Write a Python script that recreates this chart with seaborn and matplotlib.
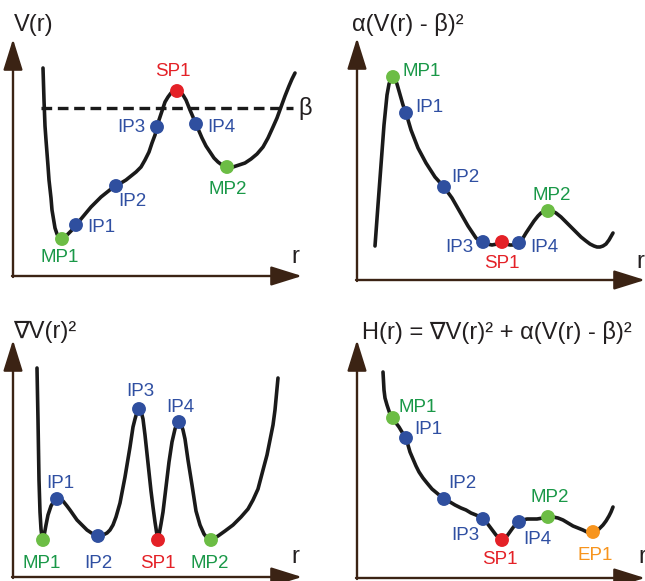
import matplotlib
matplotlib.use('Agg')
import matplotlib.pyplot as plt
import seaborn as sns
import pandas as pd

# ---- panel 1: V(r) ----
v_r = [30, 31, 32, 33, 35, 36, 38, 39, 41, 42, 44, 45, 47, 49, 52, 55, 59, 63, 68, 73, 78, 83, 88, 93, 98,
       103, 113, 123, 128, 132, 136, 139, 142, 144, 146, 148, 150, 152, 155, 158, 161, 164, 167, 170, 173,
       177, 180, 183, 186, 189, 193, 197, 201, 205, 209, 214, 220, 226, 232, 238, 244, 250, 255, 260, 264,
       268, 272, 276, 279, 282]
v_val = [208, 176, 150, 136, 110, 96, 78, 66, 54, 48, 42, 40, 38, 37, 39, 42, 46, 51, 57, 63, 69, 74, 79, 83, 87,
         90, 96, 104, 109, 116, 124, 133, 141, 149, 156, 162, 168, 174, 179, 183, 185, 185, 184, 181, 176,
         166, 159, 152, 145, 138, 130, 124, 118, 114, 111, 109, 109, 111, 113, 117, 122, 129, 138, 149, 158,
         169, 180, 190, 197, 203]
v_pts = ['MP1', 'IP1', 'IP2', 'IP3', 'SP1', 'IP4', 'MP2']
v_pts_r = [49, 63, 103, 144, 164, 183, 214]
v_pts_val = [37, 51, 90, 149, 185, 152, 109]
beta = 168
beta_from, beta_to = 28, 280

# ---- panel 2: alpha (V(r) - beta)^2 ----
a_r = [18, 21, 24, 27, 30, 32, 34, 36, 38, 40, 42, 44, 46, 49, 54, 61, 69, 78, 87, 95, 103, 111, 119,
       123, 126, 130, 135, 140, 145, 149, 153, 158, 162, 166, 169, 173, 177, 181, 184, 188, 191, 195, 199,
       204, 209, 214, 219, 224, 229, 233, 237, 240, 243, 246, 249, 252, 256]
a_val = [34, 75, 115, 155, 185, 196, 201, 203, 201, 196, 189, 182, 175, 167, 150, 132, 117, 103, 93, 82, 68, 54, 42,
         39, 38, 36, 35, 36, 38, 36, 35, 35, 37, 42, 47, 53, 59, 64, 67, 69, 69, 69, 67,
         63, 58, 53, 48, 43, 39, 36, 34, 33, 33, 34, 36, 40, 47]
a_pts = ['MP1', 'IP1', 'IP2', 'IP3', 'SP1', 'IP4', 'MP2']
a_pts_r = [36, 49, 87, 126, 145, 162, 191]
a_pts_val = [203, 167, 93, 38, 38, 37, 69]

# ---- panel 3: grad V(r)^2 ----
g_r = [24, 25, 26, 27, 28, 29, 30, 31, 33, 35, 38, 41, 44, 47, 50, 54, 57, 64, 74, 80, 85, 90, 94, 97,
       100, 103, 107, 112, 117, 120, 122, 124, 126, 128, 130, 132, 135, 138, 140, 142, 144, 145,
       146, 148, 150, 153, 156, 159, 162, 164, 166, 168, 170, 172, 175, 179, 183, 187, 191, 195, 198,
       205, 212, 220, 228, 235, 240, 245, 250, 254, 257, 260, 262, 265]
g_val = [209, 157, 97, 65, 48, 40, 37, 41, 52, 62, 71, 76, 78, 78, 76, 71, 67, 57, 47, 43, 41, 42, 44, 47,
         52, 60, 74, 100, 130, 150, 158, 165, 168, 166, 158, 142, 114, 86, 70, 55, 42, 37,
         42, 53, 65, 90, 115, 135, 148, 153, 155, 153, 147, 138, 117, 92, 66, 52, 43, 38, 37,
         41, 46, 52, 60, 68, 77, 88, 107, 122, 137, 152, 167, 199]
g_pts = ['MP1', 'IP1', 'IP2', 'IP3', 'SP1', 'IP4', 'MP2']
g_pts_r = [30, 44, 85, 126, 145, 166, 198]
g_pts_val = [37, 78, 41, 168, 37, 155, 37]

# ---- panel 4: H(r) ----
h_r = [26, 27, 28, 30, 33, 36, 39, 42, 45, 49, 51, 53, 56, 59, 62, 66, 70, 75, 81, 87, 93, 98, 104, 109,
       114, 119, 123, 126, 130, 133, 136, 139, 142, 145, 148, 150, 155, 158, 162, 166, 170, 175, 180, 186,
       191, 196, 201, 206, 211, 216, 221, 226, 230, 233, 236, 240, 243, 246, 249, 252, 254, 256]
h_val = [206, 188, 180, 173, 164, 160, 155, 151, 146, 140, 133, 126, 119, 112, 106, 100, 95, 89, 84, 79, 76, 73, 70, 68,
         65, 63, 61, 59, 55, 51, 47, 43, 40, 38, 40, 42, 49, 53, 56, 58, 59, 59, 59, 60,
         61, 61, 60, 58, 55, 52, 50, 48, 46, 45, 46, 47, 50, 53, 57, 62, 66, 71]
h_pts = ['MP1', 'IP1', 'IP2', 'IP3', 'SP1', 'IP4', 'MP2', 'EP1']
h_pts_r = [36, 49, 87, 126, 145, 162, 191, 236]
h_pts_val = [160, 140, 79, 59, 38, 56, 61, 46]

dot_colors = {'MP': '#6cbd45', 'IP': '#2f4f9f', 'SP': '#e42127', 'EP': '#f7941d'}
text_colors = {'MP': '#1a9848', 'IP': '#2f4fa2', 'SP': '#e42127', 'EP': '#f7941d'}
axis_color = '#3b2314'

sns.set_theme(style='white')
plt.rcParams['font.family'] = ['Liberation Sans', 'DejaVu Sans']

W, H = 645, 581
fig = plt.figure(figsize=(W / 100, H / 100), dpi=100)

# panel box in pixels (x0, y0, w, h), axis origin in pixels, arrow lengths, title
panels = [
    dict(box=(0, 0, 322, 290), origin=(13, 276), ytip=237, xtip=289,
         title='V(r)', title_pos=(1, 251),
         r=v_r, v=v_val, names=v_pts, pr=v_pts_r, pv=v_pts_val,
         labels=[(47, 19, 'center'), (74, 48, 'left'), (119, 74, 'center'), (132, 148, 'right'),
                 (160, 204, 'center'), (194, 148, 'left'), (215, 86, 'center')],
         rlabel=(282, 19)),
    dict(box=(322, 0, 323, 290), origin=(357, 280), ytip=242, xtip=288,
         title='α(V(r) - β)²', title_pos=(-5, 255),
         r=a_r, v=a_val, names=a_pts, pr=a_pts_r, pv=a_pts_val,
         labels=[(46, 208, 'left'), (58, 172, 'left'), (94, 103, 'left'), (116, 32, 'right'),
                 (145, 17, 'center'), (173, 32, 'left'), (195, 85, 'center')],
         rlabel=(283, 18)),
    dict(box=(0, 290, 322, 291), origin=(13, 577), ytip=237, xtip=289,
         title='∇V(r)²', title_pos=(0, 245),
         r=g_r, v=g_val, names=g_pts, pr=g_pts_r, pv=g_pts_val,
         labels=[(29, 14, 'center'), (47, 94, 'center'), (85, 14, 'center'), (127, 185, 'center'),
                 (145, 14, 'center'), (167, 170, 'center'), (197, 14, 'center')],
         rlabel=(282, 20)),
    dict(box=(322, 290, 323, 291), origin=(357, 578), ytip=238, xtip=288,
         title='H(r) = ∇V(r)² + α(V(r) - β)²', title_pos=(5, 246),
         r=h_r, v=h_val, names=h_pts, pr=h_pts_r, pv=h_pts_val,
         labels=[(61, 171, 'center'), (71, 148, 'center'), (105, 95, 'center'), (108, 42, 'center'),
                 (143, 18, 'center'), (180, 39, 'center'), (193, 80, 'center'), (238, 23, 'center')],
         rlabel=(285, 21)),
]

for i, p in enumerate(panels):
    x0, y0, w, h = p['box']
    ox, oy = p['origin']
    ax = fig.add_axes([x0 / W, 1 - (y0 + h) / H, w / W, h / H])
    ax.set_xlim(x0 - ox, x0 + w - ox)
    ax.set_ylim(oy - (y0 + h), oy - y0)
    ax.axis('off')

    # axes with arrow heads
    arrow = dict(arrowstyle='-|>,head_length=1.6,head_width=0.5', color=axis_color,
                 lw=1.7, shrinkA=0, shrinkB=0)
    ax.annotate('', xy=(0, p['ytip']), xytext=(0, -1), arrowprops=arrow, annotation_clip=False)
    ax.annotate('', xy=(p['xtip'], 0), xytext=(-1, 0), arrowprops=arrow, annotation_clip=False)

    if i == 0:
        ax.hlines(beta, beta_from, beta_to, colors='#1a1a1a', linestyles=(0, (3.2, 1.7)), lw=2.4)
        ax.text(beta_to + 12, beta, 'β', fontsize=17, ha='center', va='center', color='#231f20')

    curve = pd.DataFrame({'r': p['r'], 'v': p['v']})
    sns.lineplot(data=curve, x='r', y='v', sort=False, estimator=None, color='#1a1a1a',
                 lw=2.6, ax=ax, zorder=2)

    pts = pd.DataFrame({'name': p['names'], 'r': p['pr'], 'v': p['pv']})
    pts['kind'] = pts['name'].str[:2]
    sns.scatterplot(data=pts, x='r', y='v', hue='kind', palette=dot_colors, s=100,
                    edgecolor='none', legend=False, ax=ax, zorder=3)

    for name, (lx, ly, ha) in zip(p['names'], p['labels']):
        ax.text(lx, ly, name, fontsize=13.5, ha=ha, va='center', color=text_colors[name[:2]])

    tx, ty = p['title_pos']
    ax.text(tx, ty, p['title'], fontsize=17, ha='left', va='center', color='#231f20')
    ax.text(p['rlabel'][0], p['rlabel'][1], 'r', fontsize=17, ha='center', va='center',
            color='#231f20')

fig.savefig('out.png', dpi=100)
